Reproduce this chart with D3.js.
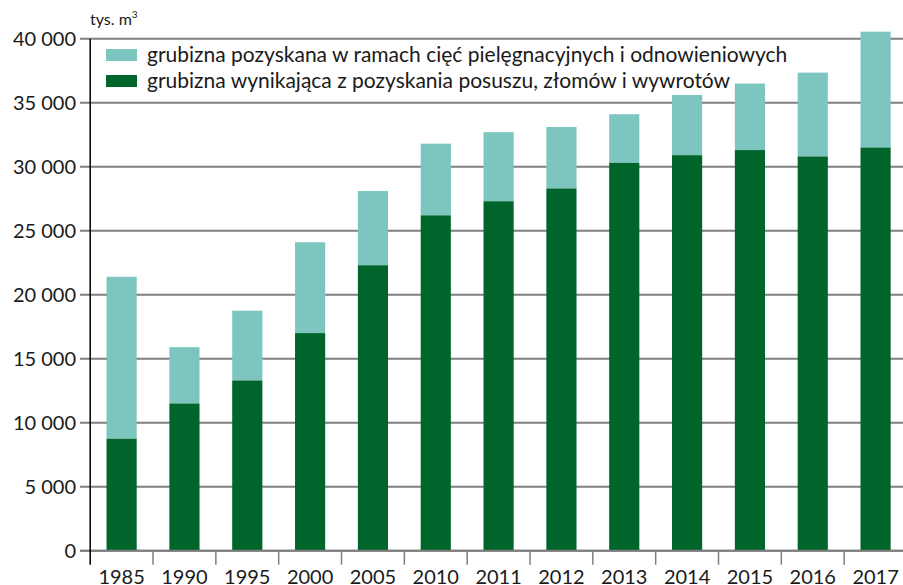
<!DOCTYPE html>
<html>
<head>
<meta charset="utf-8">
<script src="https://cdn.jsdelivr.net/npm/d3@7"></script>
<style>
  body { margin: 0; background: #fff; }
  svg text { font-family: Lato, "Open Sans", sans-serif; fill: #1a1a1a; }
</style>
</head>
<body>
<svg id="vis" width="903" height="585"></svg>
<script>
var YEARS = ["1985", "1990", "1995", "2000", "2005", "2010", "2011", "2012", "2013", "2014", "2015", "2016", "2017"];
// grubizna wynikająca z pozyskania posuszu, złomów i wywrotów
var SANITARY = [8750, 11500, 13300, 17000, 22300, 26200, 27300, 28300, 30300, 30900, 31300, 30800, 31500];
// grubizna pozyskana w ramach cięć pielęgnacyjnych i odnowieniowych (part above)
var TENDING = [12650, 4400, 5450, 7100, 5800, 5600, 5400, 4800, 3800, 4700, 5200, 6550, 9050];
var Y_TICKS = [0, 5000, 10000, 15000, 20000, 25000, 30000, 35000, 40000];
var LEGEND = [
  "grubizna pozyskana w ramach cięć pielęgnacyjnych i odnowieniowych",
  "grubizna wynikająca z pozyskania posuszu, złomów i wywrotów"
];
var COLORS = ["#7cc6bf", "#00652b"];

var svg = d3.select("#vis");
var plotLeft = 90.2, plotRight = 907, plotTop = 38.7, plotBottom = 550.7;

var x = d3.scaleBand().domain(YEARS).range([plotLeft, plotRight]).paddingInner(0.52).paddingOuter(0.26);
var y = d3.scaleLinear().domain([0, 40000]).range([plotBottom, plotTop]);

var fmt = d => d3.format(",")(d).replace(/,/g, " ");

// gridlines + y ticks
svg.append("g")
   .selectAll("line")
   .data(Y_TICKS)
   .enter()
   .append("line")
   .attr("x1", 80)
   .attr("x2", 903)
   .attr("y1", d => y(d))
   .attr("y2", d => y(d))
   .attr("stroke", "#7f7f7f")
   .attr("stroke-width", 2);

svg.append("g")
   .selectAll("text")
   .data(Y_TICKS)
   .enter()
   .append("text")
   .attr("x", 76)
   .attr("y", d => y(d))
   .attr("dy", "0.35em")
   .attr("text-anchor", "end")
   .attr("font-size", 20)
   .text(d => fmt(d));

// stacked bars
var stack = YEARS.map((yr, i) => ({ year: yr, a: SANITARY[i], b: TENDING[i] }));

svg.append("g")
   .selectAll("rect")
   .data(stack)
   .enter()
   .append("rect")
   .attr("x", d => x(d.year))
   .attr("width", x.bandwidth())
   .attr("y", d => y(d.a + d.b))
   .attr("height", d => y(d.a) - y(d.a + d.b))
   .attr("fill", COLORS[0]);

svg.append("g")
   .selectAll("rect")
   .data(stack)
   .enter()
   .append("rect")
   .attr("x", d => x(d.year))
   .attr("width", x.bandwidth())
   .attr("y", d => y(d.a))
   .attr("height", d => y(0) - y(d.a))
   .attr("fill", COLORS[1]);

// x axis
var step = x.step();
svg.append("line")
   .attr("x1", 80).attr("x2", 903)
   .attr("y1", plotBottom).attr("y2", plotBottom)
   .attr("stroke", "#7f7f7f").attr("stroke-width", 2);

svg.append("g")
   .selectAll("line")
   .data(YEARS.slice(1))
   .enter()
   .append("line")
   .attr("x1", d => x(d) - (step - x.bandwidth()) / 2)
   .attr("x2", d => x(d) - (step - x.bandwidth()) / 2)
   .attr("y1", plotBottom)
   .attr("y2", plotBottom + 14)
   .attr("stroke", "#7f7f7f")
   .attr("stroke-width", 1.5);

svg.append("g")
   .selectAll("text")
   .data(YEARS)
   .enter()
   .append("text")
   .attr("x", d => x(d) + x.bandwidth() / 2)
   .attr("y", 584)
   .attr("text-anchor", "middle")
   .attr("font-size", 20)
   .text(d => d);

// y axis line
svg.append("line")
   .attr("x1", plotLeft).attr("x2", plotLeft)
   .attr("y1", plotTop).attr("y2", plotBottom + 14)
   .attr("stroke", "#000").attr("stroke-width", 1.5);

// unit label
var unit = svg.append("text")
   .attr("x", 90)
   .attr("y", 25)
   .attr("font-size", 16);
unit.append("tspan").text("tys. m");
unit.append("tspan").attr("font-size", 10).attr("dy", -7).text("3");

// legend
var lg = svg.append("g")
            .selectAll("g")
            .data(LEGEND)
            .enter()
            .append("g")
            .attr("transform", (d, i) => "translate(106," + (49 + i * 26) + ")");

lg.append("rect")
  .attr("width", 31)
  .attr("height", 12)
  .attr("fill", (d, i) => COLORS[i]);

lg.append("text")
  .attr("x", 41)
  .attr("y", 6)
  .attr("dy", "0.35em")
  .attr("font-size", 21)
  .text(d => d);
</script>
</body>
</html>
